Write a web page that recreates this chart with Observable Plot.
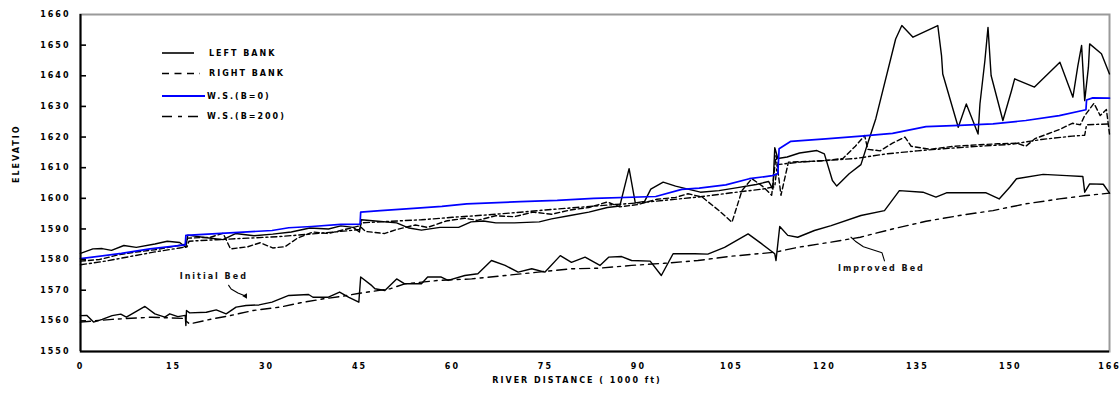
<!DOCTYPE html>
<html>
<head>
<meta charset="utf-8">
<script src="https://cdn.jsdelivr.net/npm/d3@7"></script>
<script src="https://cdn.jsdelivr.net/npm/@observablehq/plot@0.6"></script>
<style>
  body { margin: 0; background: #fff; }
  #chart svg text { letter-spacing: 2px; }
</style>
</head>
<body>
<div id="chart"></div>
<script>
// River profile: bank elevations, water surfaces and bed profiles, [distance (1000 ft), elevation]
const leftBank = [
  [0,1582],[2,1583.5],[3.5,1583.6],[5,1583],[7,1584.6],[9,1584],[12,1585.1],[14,1586],[16,1585.6],[17,1584],
  [17.3,1588],[20,1587.2],[23,1586.5],[25,1588.5],[28,1587.8],[31,1588.3],[34,1589],[37,1590.3],[40,1590],
  [42,1591],[44,1590.5],[45,1589],[45.3,1593],[48,1592.5],[51,1592],[53,1590.3],[55,1589.6],[58,1590.5],
  [61,1590.5],[63,1592.3],[65,1592.6],[67,1592],[70,1592],[74,1592.3],[76,1593.3],[79,1594.4],[82,1595.5],
  [85,1597],[87,1597.5],[88.5,1609.7],[89.5,1598.5],[91,1599],[92,1603],[94,1605.3],[96,1604],[98,1603],
  [100,1602],[103,1602.5],[106,1603.5],[109,1604.5],[111,1605.5],[111.7,1603],[112,1616.5],[112.5,1613],
  [114,1613.5],[116,1614.8],[118.8,1615.6],[120,1614.5],[121.3,1605.8],[122,1604],[124,1608],[125.9,1611],
  [127,1618],[128.3,1626],[131.5,1652],[132.5,1656.4],[134.3,1652.6],[138.3,1656.4],[138.9,1646.6],
  [139.1,1640.6],[141.6,1623.2],[142.9,1630.8],[144.8,1621],[145.1,1630.8],[145.9,1645],[146.4,1655.8],
  [146.9,1640.1],[148.8,1625.4],[150.2,1635.2],[150.7,1639],[153.9,1636.3],[158,1644.4],[160.1,1633],
  [160.9,1643.3],[161.5,1649.9],[162,1631.9],[162.6,1642.8],[162.8,1650.4],[164.7,1647.2],[166,1640.6]
];

const rightBank = [
  [0,1579.5],[3,1580],[6,1581.5],[9,1582.5],[12,1583.2],[15,1584.3],[17,1585],[17.3,1587],[21,1587.3],
  [23,1588.6],[24.2,1583.5],[27,1584.2],[29,1585.5],[31,1583.8],[33,1584.2],[35,1587],[37.5,1589],[40,1588.5],
  [43,1590],[45,1591],[46,1589.2],[49,1588.5],[51,1589.8],[54,1591.3],[56,1590.5],[59,1592.6],[62,1593.5],
  [64,1592.8],[67,1594.3],[70,1594],[73,1595.5],[76,1594.8],[79,1596.2],[82,1597],[85,1598.8],[87,1597.2],
  [90,1598],[93,1599.7],[96,1600.3],[98,1601.5],[100.3,1600.4],[103,1596],[105.1,1592.2],[106.7,1602.5],
  [108.3,1606.4],[110,1604],[111.5,1601],[112.2,1614],[113,1601],[114.2,1611.8],[117,1612],[120,1612.3],
  [123,1613],[125,1617],[126.5,1620.5],[127,1616],[129,1615.5],[131,1618],[133,1620],[134,1617],[137,1616],
  [141,1617],[145,1617.5],[148,1617.8],[151,1618],[152.5,1617],[154,1619.5],[156,1621],[158,1622.5],
  [160,1624.5],[161.3,1624],[162,1627],[163.5,1631],[164.5,1627],[165.5,1629],[166,1621]
];

const wsB0 = [
  [0,1580.3],[6.6,1582],[11.2,1583.5],[16.9,1584.8],[17,1587.9],[25.5,1588.9],[30.9,1589.5],[33.6,1590.4],
  [37.3,1590.8],[42,1591.5],[45.1,1591.6],[45.2,1595.5],[48.4,1596],[54.3,1596.8],[58.3,1597.4],[62.3,1598.2],
  [71,1598.9],[76.9,1599.3],[82.8,1600],[92.8,1600.6],[97,1602.9],[99.8,1603.3],[104.1,1604.4],[107.9,1606.4],
  [111.6,1607.4],[112.5,1608],[112.7,1616.2],[114.6,1618.6],[120.2,1619.4],[125.9,1620.3],[131,1621.2],
  [136.4,1623.4],[141.8,1623.8],[147.2,1624.3],[152.5,1625.4],[157.9,1627],[162.2,1628.9],[162.3,1632.1],
  [163.3,1632.8],[166,1632.7]
];

const wsB200 = [
  [0,1578.3],[4,1579.5],[8,1581],[12,1582.5],[16,1583.8],[17.2,1584.2],[17.5,1586],[22,1586.5],[27,1587],
  [32,1587.5],[37,1588.3],[42,1589.2],[45,1589.8],[45.3,1592],[50,1592.5],[55,1593],[60,1593.8],[65,1594.5],
  [70,1595.3],[75,1596.2],[80,1597],[85,1597.8],[90,1598.5],[95,1599.5],[100,1600.5],[105,1601.8],[110,1603],
  [112,1603.8],[112.4,1611],[116,1611.8],[120,1612.3],[125,1613],[130,1614.5],[135,1615.5],[140,1616.3],
  [145,1617],[150,1617.6],[155,1619.2],[160,1620.3],[162,1620.6],[162.3,1624],[166,1624.3]
];

const initialBed = [
  [0,1561.7],[1,1561.8],[2.1,1559.6],[3.5,1560.5],[5.1,1561.7],[6.5,1562.2],[7.4,1561.2],[10.4,1564.7],
  [12,1562.3],[13.6,1561.2],[14.4,1562.3],[15.7,1561.4],[16.9,1561.8],[17,1558.5],[17.1,1563.4],[17.6,1562.6],
  [20.3,1562.8],[21.9,1563.6],[23.5,1562.3],[25.1,1564.5],[26.7,1565],[28.8,1565.2],[30.9,1566.1],[33.6,1568.3],
  [36.8,1568.6],[37.5,1567.7],[39.9,1567.7],[41.8,1569.4],[43.3,1567.7],[44.9,1566.1],[45.2,1574.3],[47,1571.5],
  [47.5,1570.5],[49.1,1569.9],[51,1573.7],[52.3,1572.1],[55,1572.1],[56,1574.3],[58.2,1574.3],[59.3,1573.2],
  [62,1574.8],[64.1,1575.4],[66.3,1579.7],[68.5,1578.1],[70.6,1575.9],[72.8,1577],[74.9,1575.9],[77.4,1581.3],
  [79.2,1579.1],[81.4,1580.8],[83.8,1578.1],[85.2,1580.8],[87.3,1581],[88.9,1579.7],[91.9,1579.5],[93.7,1574.8],
  [95.6,1581.9],[99.1,1581.9],[101.2,1581.8],[103.9,1584],[107.7,1588.4],[109.8,1585.3],[112,1581.9],
  [112.2,1579.7],[112.8,1590.8],[114.1,1587.9],[115.7,1587.3],[118.4,1589.5],[121.1,1591.1],[125.9,1594.4],
  [129.7,1596],[132.1,1602.5],[135.9,1602],[138,1600.4],[139.7,1601.8],[146.1,1601.8],[148.2,1599.8],
  [149.9,1603.6],[151,1606.4],[155.3,1607.8],[159.1,1607.4],[161.7,1607.1],[162,1602],[162.8,1604.7],
  [165,1604.6],[166,1601.7]
];

const improvedBed = [
  [0,1559.6],[5.1,1560.5],[11.5,1561.2],[16.5,1560.8],[17.6,1559],[21.4,1560.7],[24.1,1561.7],[27.9,1563.4],
  [32.2,1564.5],[35.5,1565.9],[39.2,1567.2],[42.2,1568],[45,1569],[50,1570.5],[52.3,1572.1],[57.7,1573.2],
  [63.1,1573.7],[68.5,1574.8],[73.8,1575.9],[79.2,1577],[83.7,1577.2],[88.9,1578.1],[94.2,1578.8],
  [99.6,1579.7],[105,1581.1],[112,1582.4],[115.7,1584],[121.1,1585.7],[125.8,1587.3],[131,1590],
  [136.4,1592.5],[141.8,1594.4],[147.2,1596],[152.5,1598.2],[157.9,1599.8],[162.2,1600.9],[166,1601.7]
];

// Callout labels and their leader lines
const bedLabels = [
  {text: "Initial Bed", x: 21.5, y: 1574.6},
  {text: "Improved Bed", x: 129.2, y: 1577.1}
];
const initialLeader = [[23.9,1571.6],[24.3,1570.4],[25.4,1569.1],[26.6,1568.1]];
const improvedLeader = [[129.7,1579.6],[129.3,1582.2],[126.3,1584.2],[125,1586],[124.3,1587.3]];

const xTicks = [0,15,30,45,60,75,90,105,120,135,150,166];
const yTicks = [1550,1560,1570,1580,1590,1600,1610,1620,1630,1640,1650,1660];
const xTitle = "RIVER DISTANCE ( 1000 ft)";
const yTitle = "ELEVATIO";

const legendItems = [
  {label: "LEFT BANK", stroke: "#000", dash: null, len: 32},
  {label: "RIGHT BANK", stroke: "#000", dash: "7,5.5", len: 38},
  {label: "W.S.(B=0)", stroke: "#0000ff", dash: null, len: 43},
  {label: "W.S.(B=200)", stroke: "#000", dash: "10,6,4,6", len: 38}
];

const font = "DejaVu Sans, Verdana, sans-serif";
const W = 1120, H = 396, mL = 80, mR = 11, mT = 14, mB = 45;
const innerW = W - mL - mR;
const X = d => d[0], Y = d => d[1];

const chart = Plot.plot({
  width: W, height: H,
  marginLeft: mL, marginRight: mR, marginTop: mT, marginBottom: mB,
  style: {fontFamily: font, background: "#fff", color: "#000"},
  x: {domain: [0, 166]},
  y: {domain: [1550, 1660]},
  marks: [
    Plot.frame({stroke: "#9a9a9a", strokeWidth: 2}),
    Plot.line(improvedBed, {x: X, y: Y, stroke: "#000", strokeWidth: 1.4, strokeDasharray: "10,5,3,5"}),
    Plot.line(initialBed, {x: X, y: Y, stroke: "#000", strokeWidth: 1.4}),
    Plot.line(wsB200, {x: X, y: Y, stroke: "#000", strokeWidth: 1.4, strokeDasharray: "6,3,2,3"}),
    Plot.line(rightBank, {x: X, y: Y, stroke: "#000", strokeWidth: 1.4, strokeDasharray: "5,3"}),
    Plot.line(leftBank, {x: X, y: Y, stroke: "#000", strokeWidth: 1.4}),
    Plot.line(wsB0, {x: X, y: Y, stroke: "#0000ff", strokeWidth: 1.7}),
    Plot.line(initialLeader, {x: X, y: Y, stroke: "#000", strokeWidth: 1.1}),
    Plot.dot([initialLeader[initialLeader.length - 1]], {x: X, y: Y, r: 2, fill: "#000", symbol: "triangle", rotate: 150}),
    Plot.line(improvedLeader, {x: X, y: Y, stroke: "#000", strokeWidth: 1.1}),
    Plot.text(bedLabels, {x: "x", y: "y", text: "text", fontSize: 8, fontWeight: "bold", fill: "#111"}),
    // inward y tick marks
    Plot.tickY(yTicks.slice(1, -1), {y: d => d, stroke: "#000", strokeWidth: 1.6, insetRight: innerW - 6}),
    Plot.axisY(yTicks, {tickSize: 0, tickPadding: 10, fontSize: 8, fontWeight: "bold", label: null, tickFormat: d => String(d)}),
    Plot.axisX(xTicks, {tickSize: 0, tickPadding: 12, fontSize: 8, fontWeight: "bold", label: null, tickFormat: d => String(d)}),
    Plot.ruleX([0], {stroke: "#000", strokeWidth: 2}),
    Plot.ruleY([1550], {stroke: "#000", strokeWidth: 2}),
    Plot.text([xTitle], {frameAnchor: "bottom", dy: 31, dx: -18, fontSize: 8, fontWeight: "bold"}),
    Plot.text([yTitle], {frameAnchor: "left", rotate: -90, dx: -64, fontSize: 8, fontWeight: "bold"})
  ]
});

// Legend drawn inside the plotting area, top-left
const svg = d3.select(chart);
const lg = svg.append("g").attr("transform", "translate(162,53)").attr("text-anchor", "start");
legendItems.forEach((it, i) => {
  const row = lg.append("g").attr("transform", `translate(0,${[0, 20.5, 43, 63.5][i]})`);
  row.append("line").attr("x1", 0).attr("x2", it.len).attr("y1", 0).attr("y2", 0)
    .attr("stroke", it.stroke).attr("stroke-width", it.stroke === "#000" ? 1.6 : 1.8)
    .attr("stroke-dasharray", it.dash);
  row.append("text").attr("x", i < 2 ? 47 : 45).attr("y", 0).attr("dy", "0.35em")
    .attr("text-anchor", "start")
    .attr("font-size", 8).attr("font-weight", "bold").attr("fill", "#000")
    .text(it.label);
});

document.getElementById("chart").append(chart);
</script>
</body>
</html>
